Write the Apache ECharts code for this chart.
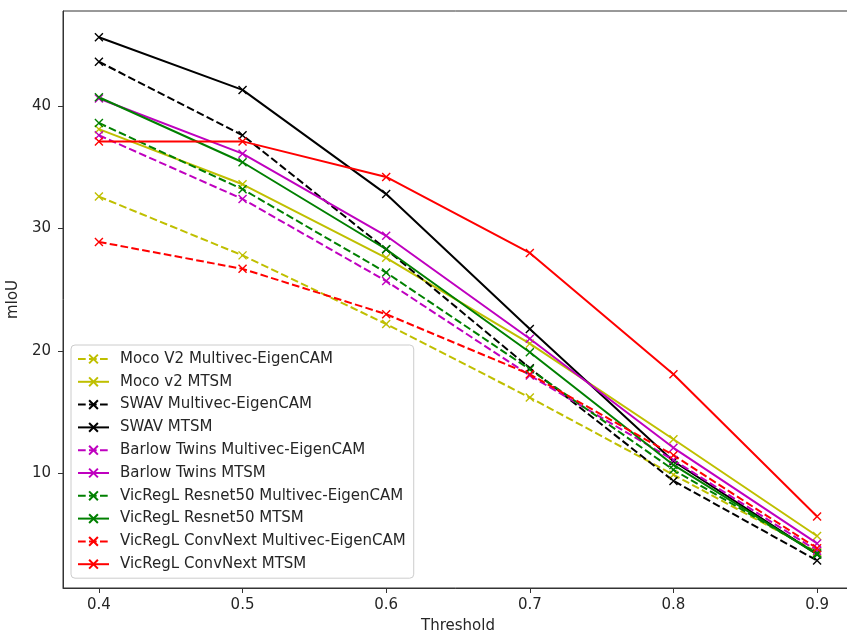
<!DOCTYPE html>
<html>
<head>
<meta charset="utf-8">
<script src="https://cdn.jsdelivr.net/npm/echarts@6/dist/echarts.min.js"></script>
<style>
  html, body { margin: 0; padding: 0; background: #fff; }
  #chart { width: 847px; height: 632px; }
</style>
</head>
<body>
<div id="chart"></div>
<script>
// Threshold values on the x axis
const thresholds = [0.4, 0.5, 0.6, 0.7, 0.8, 0.9];
const xTicks = [0.4, 0.5, 0.6, 0.7, 0.8, 0.9];
const yTicks = [10, 20, 30, 40];

// mIoU per method and threshold
const mocoMulti    = [32.6, 27.8, 22.2, 16.2,  9.9, 3.6];
const mocoMtsm     = [38.1, 33.6, 27.6, 20.6, 12.8, 4.9];
const swavMulti    = [43.6, 37.6, 28.3, 18.6,  9.4, 2.9];
const swavMtsm     = [45.6, 41.3, 32.8, 21.8, 11.0, 3.4];
const barlowMulti  = [37.6, 32.4, 25.7, 18.0, 11.1, 3.7];
const barlowMtsm   = [40.6, 36.1, 29.4, 21.0, 12.1, 4.3];
const vicResMulti  = [38.6, 33.2, 26.4, 18.5, 10.3, 3.5];
const vicResMtsm   = [40.7, 35.4, 28.3, 19.9, 10.7, 3.4];
const vicConvMulti = [28.9, 26.7, 23.0, 18.1, 11.5, 3.9];
const vicConvMtsm  = [37.1, 37.1, 34.2, 28.0, 18.1, 6.5];

const seriesDefs = [
  { name: 'Moco V2 Multivec-EigenCAM',          values: mocoMulti,    color: '#bfbf00', dashed: true },
  { name: 'Moco v2 MTSM',                       values: mocoMtsm,     color: '#bfbf00', dashed: false },
  { name: 'SWAV Multivec-EigenCAM',             values: swavMulti,    color: '#000000', dashed: true },
  { name: 'SWAV MTSM',                          values: swavMtsm,     color: '#000000', dashed: false },
  { name: 'Barlow Twins Multivec-EigenCAM',     values: barlowMulti,  color: '#bf00bf', dashed: true },
  { name: 'Barlow Twins MTSM',                  values: barlowMtsm,   color: '#bf00bf', dashed: false },
  { name: 'VicRegL Resnet50 Multivec-EigenCAM', values: vicResMulti,  color: '#008000', dashed: true },
  { name: 'VicRegL Resnet50 MTSM',              values: vicResMtsm,   color: '#008000', dashed: false },
  { name: 'VicRegL ConvNext Multivec-EigenCAM', values: vicConvMulti, color: '#ff0000', dashed: true },
  { name: 'VicRegL ConvNext MTSM',              values: vicConvMtsm,  color: '#ff0000', dashed: false }
];

const FONT = 'DejaVu Sans';
const FS = 15;
const TEXT = '#262626';
const SPINE = '#333333';
const CROSS = 'path://M0,0L10,10M10,0L0,10';

const chart = echarts.init(document.getElementById('chart'), null, { renderer: 'canvas' });

chart.setOption({
  animation: false,
  backgroundColor: '#ffffff',
  textStyle: { fontFamily: FONT },
  grid: {
    left: 63, top: 11, right: -6, bottom: 44,
    outerBoundsMode: 'none',
    containLabel: false,
    show: true, borderColor: SPINE, borderWidth: 1, backgroundColor: 'transparent'
  },
  legend: {
    orient: 'vertical',
    left: 71, top: 345,
    padding: [6.5, 8, 6.5, 6],
    itemWidth: 31, itemHeight: 11, itemGap: 7.8,
    backgroundColor: 'rgba(255,255,255,0.8)',
    borderColor: '#cccccc', borderWidth: 1, borderRadius: 4,
    textStyle: { fontFamily: FONT, fontSize: FS, color: TEXT, padding: [0, 0, 0, 6] },
    data: seriesDefs.map(d => d.name)
  },
  xAxis: {
    type: 'value',
    min: 0.375, max: 0.925,
    name: 'Threshold',
    nameLocation: 'middle',
    nameGap: 30.5,
    nameTextStyle: { fontFamily: FONT, fontSize: FS, color: TEXT },
    axisLine: { show: true, onZero: false, lineStyle: { color: SPINE, width: 1 } },
    axisTick: { show: true, length: 5, lineStyle: { color: SPINE, width: 1 }, customValues: xTicks },
    axisLabel: {
      fontFamily: FONT, fontSize: FS, color: TEXT, margin: 9.5,
      customValues: xTicks,
      formatter: v => v.toFixed(1)
    },
    splitLine: { show: false }
  },
  yAxis: {
    type: 'value',
    min: 0.66, max: 47.74,
    name: 'mIoU',
    nameLocation: 'middle',
    nameGap: 35,
    nameTextStyle: { fontFamily: FONT, fontSize: FS, color: TEXT },
    axisLine: { show: true, onZero: false, lineStyle: { color: SPINE, width: 1 } },
    axisTick: { show: true, length: 5, lineStyle: { color: SPINE, width: 1 }, customValues: yTicks },
    axisLabel: {
      fontFamily: FONT, fontSize: FS, color: TEXT, margin: 12,
      customValues: yTicks,
      formatter: v => String(Math.round(v))
    },
    splitLine: { show: false }
  },
  series: seriesDefs.map(d => ({
    name: d.name,
    type: 'line',
    data: thresholds.map((t, i) => [t, d.values[i]]),
    symbol: CROSS,
    symbolSize: 8,
    showSymbol: true,
    lineStyle: { color: d.color, width: 2, type: d.dashed ? [7.7, 3.3] : 'solid' },
    itemStyle: { color: d.color, borderColor: d.color, borderWidth: 1.4 },
    emphasis: { disabled: true }
  }))
});
</script>
</body>
</html>
